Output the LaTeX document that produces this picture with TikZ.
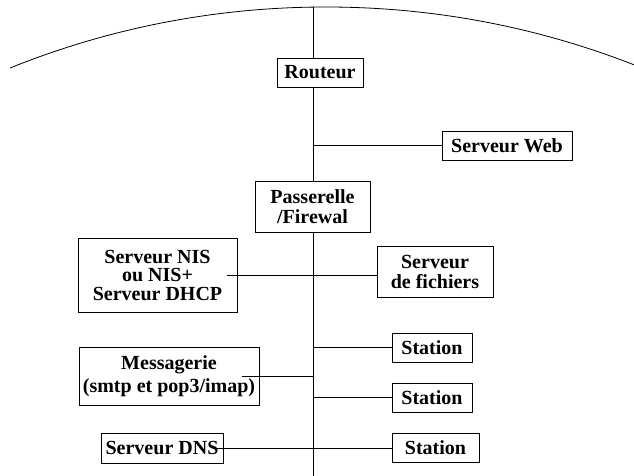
\documentclass[tikz,border=0pt]{standalone}
\usepackage{fontspec}
\setmainfont{Liberation Serif}
\tikzset{
  srv/.style={draw, fill=white, line width=0.8pt, inner sep=0pt, align=center,
    font=\fontsize{20}{20}\selectfont\bfseries},
}
\begin{document}
\begin{tikzpicture}[x=1pt, y=-1pt, line width=0.8pt]
    \useasboundingbox (0,0) rectangle (634,476);

    % Internet
    \begin{scope}
        \clip (10,0) rectangle (634,476);
        \draw (326,853) circle[radius=846pt];
    \end{scope}

    \coordinate (haut) at (313,7);
    \coordinate (bas) at (313,476);
    \draw (haut) -- (bas);

    \node[srv, minimum width=86, minimum height=29] (routeur) at (320,72.5) {Routeur};
    \node[srv, minimum width=130, minimum height=29] (web) at (507,145.5) {Serveur Web};
    \node[srv, minimum width=115, minimum height=51] (passerelle) at (312.5,206.5) {Passerelle\\/Firewal};
    \node[srv, minimum width=159, minimum height=74] (nis) at (157.5,275) {Serveur NIS\\[-1.5pt]ou NIS+\\[-1.5pt]Serveur DHCP};
    \node[srv, minimum width=116, minimum height=51] (fichiers) at (435,271.5) {Serveur\\de fichiers};
    \node[srv, minimum width=180, minimum height=58] (messagerie) at (169,376) {Messagerie\\[3pt](smtp et pop3/imap)};
    \node[srv, minimum width=80, minimum height=29] (station1) at (432,347.5) {Station};
    \node[srv, minimum width=80, minimum height=29] (station2) at (432,397.5) {Station};
    \node[srv, minimum width=122, minimum height=30] (dns) at (162,448) {Serveur DNS};
    \node[srv, minimum width=87, minimum height=29] (station3) at (435.5,448) {Station};

    \draw (web.west -| haut) -- (web.west);
    \draw ([xshift=-10]nis.east) -- (nis.east -| fichiers.west);
    \draw (station1.west -| haut) -- (station1.west);
    \draw (station2.west -| haut) -- (station2.west);
    \draw ([xshift=-17]messagerie.east) -- (messagerie.east -| haut);
    \draw ([xshift=-10]dns.east) -- (station3.west);
\end{tikzpicture}
\end{document}
